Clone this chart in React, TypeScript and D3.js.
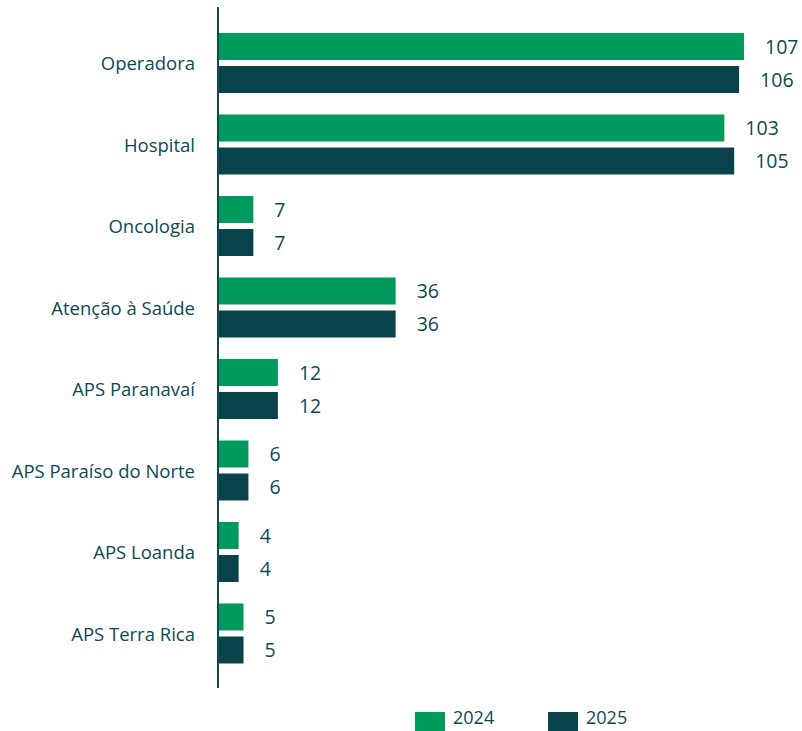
import React from "react";
import * as d3 from "d3";

const categories = [
  "Operadora",
  "Hospital",
  "Oncologia",
  "Atenção à Saúde",
  "APS Paranavaí",
  "APS Paraíso do Norte",
  "APS Loanda",
  "APS Terra Rica",
];
const years = ["2024", "2025"];
const values2024 = [107, 103, 7, 36, 12, 6, 4, 5];
const values2025 = [106, 105, 7, 36, 12, 6, 4, 5];

const width = 802;
const height = 731;
const x0 = 219;
const colors: Record<string, string> = { "2024": "#009a5c", "2025": "#0a444a" };
const textColor = "#0d4a50";
const font = "'Open Sans', 'Noto Sans', sans-serif";

const App = () => {
  const x = d3.scaleLinear().domain([0, 107]).range([x0, 744]);
  const y = d3
    .scaleBand()
    .domain(categories)
    .range([22.25, 674.25])
    .paddingInner(0.2638)
    .paddingOuter(0.1319);
  const yInner = d3
    .scaleBand()
    .domain(years)
    .range([0, y.bandwidth()])
    .paddingInner(0.1818);

  const series: Record<string, number[]> = { "2024": values2024, "2025": values2025 };

  return (
    <svg
      width={width}
      height={height}
      style={{ position: "fixed", left: 0, top: 0, background: "#fff" }}
      fontFamily={font}
    >
      {categories.map((c, i) => (
        <g key={c} transform={`translate(0,${y(c)})`}>
          <text
            x={195}
            y={y.bandwidth() / 2}
            textAnchor="end"
            dominantBaseline="central"
            fontSize={18.5}
            fill={textColor}
          >
            {c}
          </text>
          {years.map((yr) => {
            const v = series[yr][i];
            return (
              <g key={yr}>
                <rect
                  x={x(0)}
                  y={yInner(yr)}
                  width={x(v) - x(0)}
                  height={yInner.bandwidth()}
                  fill={colors[yr]}
                />
                <text
                  x={x(v) + 21}
                  y={(yInner(yr) ?? 0) + yInner.bandwidth() / 2}
                  dominantBaseline="central"
                  fontSize={19.5}
                  fill={textColor}
                >
                  {v}
                </text>
              </g>
            );
          })}
        </g>
      ))}
      <line x1={218} x2={218} y1={7} y2={688} stroke={textColor} strokeWidth={2} />
      {years.map((yr, i) => (
        <g key={yr} transform={`translate(${415 + i * 133},0)`}>
          <rect x={0} y={712} width={30} height={22} fill={colors[yr]} />
          <text x={38} y={724} fontSize={18} fill={textColor}>
            {yr}
          </text>
        </g>
      ))}
    </svg>
  );
};

export default App;
